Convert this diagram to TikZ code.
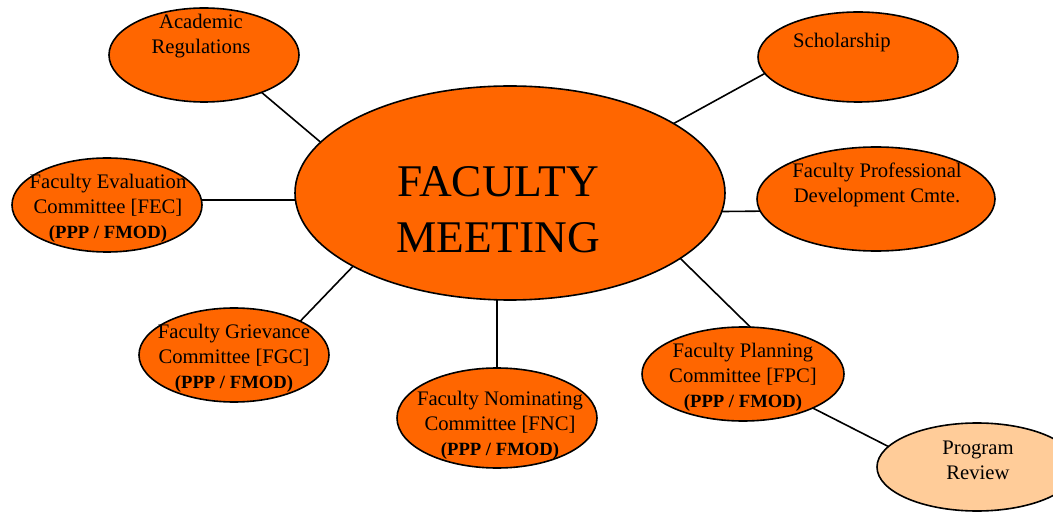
\documentclass[tikz,border=0pt]{standalone}
\usepackage{fontspec}
\setmainfont{Liberation Serif}
\usetikzlibrary{shapes.geometric}
\definecolor{orng}{HTML}{FF6600}
\definecolor{peach}{HTML}{FFCC99}
\tikzset{
  bub/.style={ellipse, draw=black, line width=1.2pt, fill=orng, inner sep=0pt, outer sep=0pt},
  sz/.style 2 args={minimum width=#1*0.75pt, minimum height=#2*0.75pt},
  lbl/.style={align=center, inner sep=0pt, font=\fontsize{15.5}{18.75}\selectfont},
  link/.style={draw=black, line width=1.2pt},
}
\newcommand{\ppp}{\fontsize{14}{18.75}\selectfont\bfseries (PPP / FMOD)}
\begin{document}
\begin{tikzpicture}[x=0.75pt,y=-0.75pt]
\useasboundingbox (0,0) rectangle (1053,513);
\begin{scope}
\clip (0,0) rectangle (1053,513);
% ellipses
\node[bub, sz={430}{214}] (main) at (510,193) {};
\node[bub, sz={190}{94}] (acad) at (204,55) {};
\node[bub, sz={200}{90}] (schol) at (858,57) {};
\node[bub, sz={190}{94}] (fec) at (107,205) {};
\node[bub, sz={238}{104}] (fpdc) at (876,199) {};
\node[bub, sz={190}{94}] (fgc) at (234,355) {};
\node[bub, sz={200}{100}] (fnc) at (497,418) {};
\node[bub, sz={202}{94}] (fpc) at (743,374) {};
\node[bub, fill=peach, sz={200}{88}] (pr) at (977,467) {};
% texts
\node[lbl, font=\fontsize{34}{42}\selectfont] (tmain) at (498,209.5) {FACULTY\\MEETING};
\node[lbl] (tacad) at (201,36.5) {Academic\\Regulations};
\node[lbl] (tschol) at (842,43) {Scholarship};
\node[lbl] (tfec) at (108,208.5) {Faculty Evaluation\\Committee [FEC]\\{\ppp}};
\node[lbl] (tfpdc) at (877,184.5) {Faculty Professional\\Development Cmte.};
\node[lbl] (tfgc) at (234,358) {Faculty Grievance\\Committee [FGC]\\{\ppp}};
\node[lbl] (tfnc) at (500,425) {Faculty Nominating\\Committee [FNC]\\{\ppp}};
\node[lbl] (tfpc) at (743,377) {Faculty Planning\\Committee [FPC]\\{\ppp}};
\node[lbl] (tpr) at (978,460.5) {Program\\Review};
% connectors
\draw[link] (main.165.7) -- (acad.-33.7);
\draw[link] (main.23.9) -- (schol.-170.4);
\draw[link] (fec.3) -- (fec.3 -| main.west);
\draw[link] (main.-5.1) -- (fpdc.186.3);
\draw[link] (main.205.4) -- (fgc.27.9);
\draw[link] (fnc.north |- main.south) -- (fnc.north);
\draw[link] (main.-21.9) -- (fpc.81.7);
\draw[link] (fpc.-26.6) -- (pr.167.5);
\end{scope}
\end{tikzpicture}
\end{document}
